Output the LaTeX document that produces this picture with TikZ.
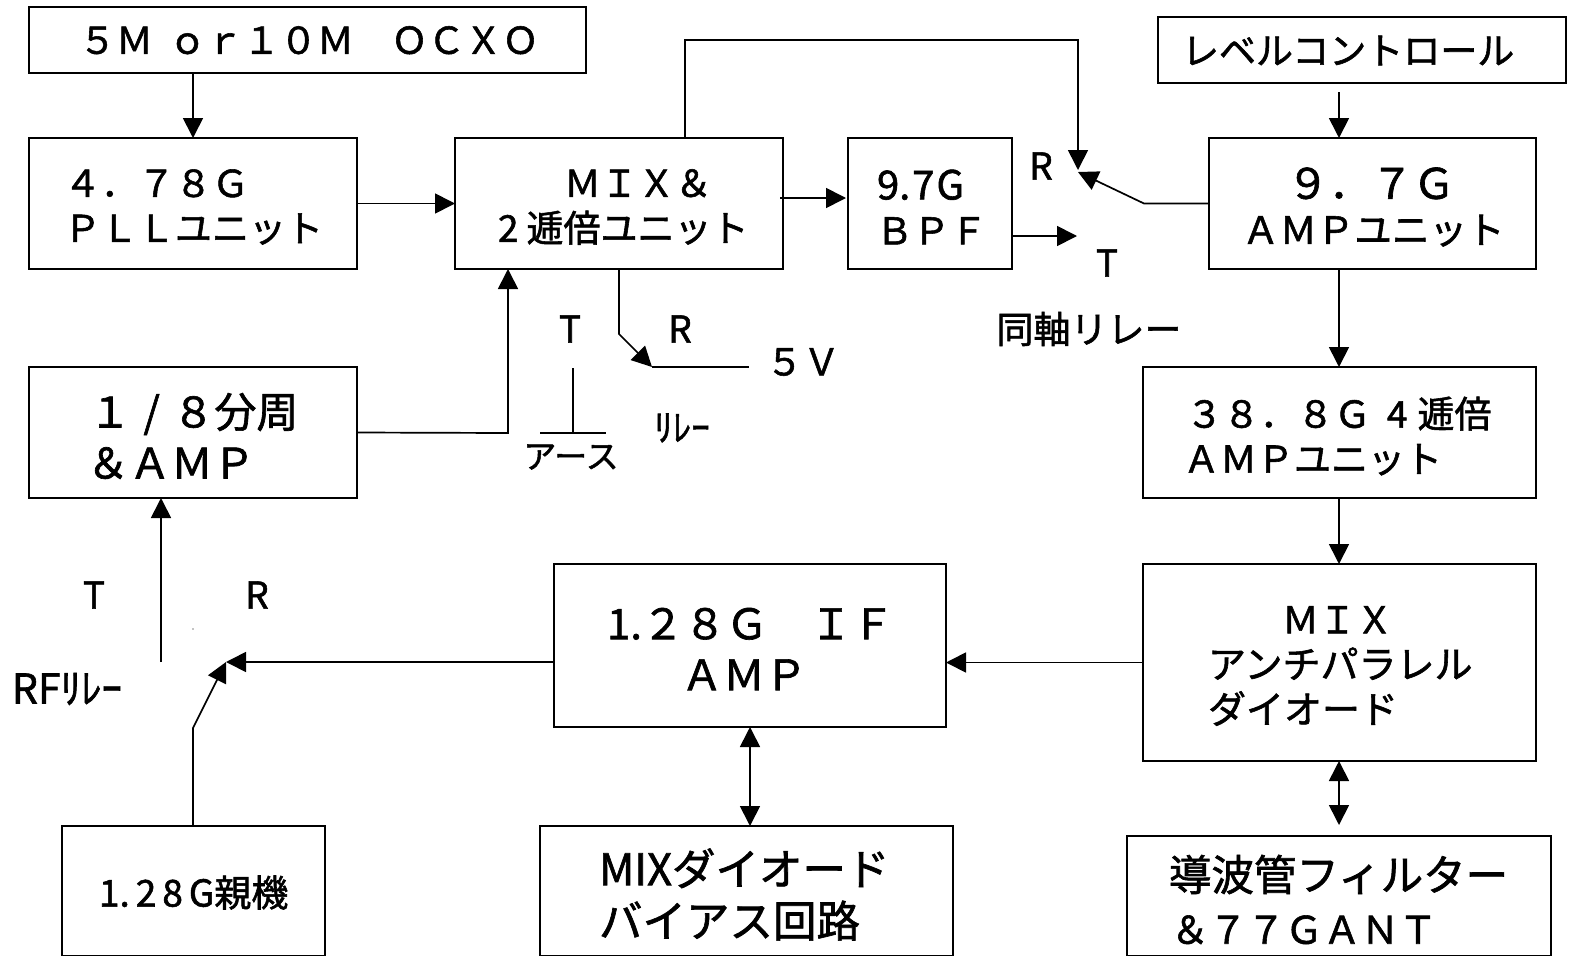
\documentclass[tikz,border=0pt]{standalone}
\usepackage{fontspec}
\setmainfont[FakeBold=1.5]{Noto Sans CJK JP}
\usetikzlibrary{arrows.meta}
\newcommand{\fsz}[2]{\fontsize{#1}{#2}\selectfont}
\newcommand{\ind}[1]{\hspace*{#1pt}}
\tikzset{
  blockbox/.style 2 args={draw,line width=1.8pt,anchor=north west,inner sep=0pt,outer sep=0pt,
    text width=#1pt,minimum height=#2pt,align=left,font=\fsz{37}{45},
    execute at end node={\par\vspace{-7pt}}},
  labeltext/.style={inner sep=0pt,font=\fsz{37}{45}},
  wire/.style={line width=1.7pt},
  arr/.style={wire,-{Triangle[width=20pt,length=20pt]}},
  darr/.style={wire,{Triangle[width=20pt,length=20pt]}-{Triangle[width=20pt,length=20pt]}}
}
\begin{document}
\begin{tikzpicture}[x=1pt,y=-1pt]
  \useasboundingbox (0,0) rectangle (1572,956);
  \clip (0,0) rectangle (1572,956);
  \node[blockbox={557}{66},execute at end node={\par\vspace{-11pt}}] (ocxo) at (29,7) {\ind{50}５Ｍ\hspace{16pt}ｏｒ１０Ｍ　ＯＣＸＯ};
  \node[blockbox={328}{131}] (pll) at (29,138) {\ind{35}４．７８Ｇ\\\ind{35}ＰＬＬユニット};
  \node[blockbox={328}{131}] (mixdbl) at (455,138) {\ind{109}ＭＩＸ＆\\\ind{43}2\hspace{8pt}逓倍ユニット};
  \node[blockbox={164}{131}] (bpf) at (848,138) {\ind{29}{\fsz{40}{45}9.\hspace{2pt}7\hspace{2pt}G}\\\ind{28}ＢＰＦ};
  \node[blockbox={327}{131},font=\fsz{42}{45}] (ampnine) at (1209,138) {\ind{78}９．７Ｇ\\\ind{33}{\fsz{37.5}{45}ＡＭＰユニット}};
  \node[blockbox={408}{66},execute at end node={\par\vspace{-11pt}}] (level) at (1158,17) {\ind{24}レベルコントロール};
  \node[blockbox={328}{131},font=\fsz{42}{51},execute at end node={}] (div) at (29,367) {\ind{60}１\hspace{12.5pt}/\hspace{12.5pt}８分周\\\ind{58}＆ＡＭＰ};
  \node[blockbox={393}{131}] (ampfour) at (1143,367) {\ind{43}３８．８Ｇ\hspace{16pt}4\hspace{10pt}逓倍\\\ind{40}ＡＭＰユニット};
  \node[blockbox={393}{197}] (mixanti) at (1143,564) {\ind{139}ＭＩＸ\\\ind{65}{\fsz{38}{45}アンチパラレル}\\\ind{65}{\fsz{38}{45}ダイオード}};
  \node[blockbox={392}{163},font=\fsz{42}{51}] (ifamp) at (554,564) {\ind{53}1.２８Ｇ　ＩＦ\\\ind{127}ＡＭＰ};
  \node[blockbox={263}{130}] (oya) at (62,826) {\ind{37}1.\hspace{6pt}2\hspace{6pt}8\hspace{6pt}G親機};
  \node[blockbox={413}{130},font=\fsz{43.5}{52}] (bias) at (540,826) {\ind{59}MIXダイオード\\\ind{59}バイアス回路};
  \node[blockbox={424}{120},font=\fsz{42.5}{53}] (wg) at (1127,836) {\ind{42}導波管フィルター\\\ind{44}{\fsz{38}{53}＆７７ＧＡＮＴ}};
  \node[labeltext] (mixT) at (570,329) {T};
  \node[labeltext] (mixR) at (680,329) {R};
  \node[labeltext] (fivev) at (803,362) {５Ｖ};
  \node[labeltext] (relayname) at (682,428) {ﾘﾚｰ};
  \node[labeltext,font=\fsz{33}{36}] (earth) at (571,457) {アース};
  \node[labeltext] (coaxR) at (1041,166) {R};
  \node[labeltext] (coaxT) at (1107,263) {T};
  \node[labeltext] (coaxname) at (1089,329) {同軸リレー};
  \node[labeltext] (rfT) at (94,595) {T};
  \node[labeltext] (rfR) at (257,595) {R};
  \node[labeltext,font=\fsz{41}{45}] (rfname) at (67,689) {RFﾘﾚｰ};
  \coordinate (mixout) at (780,198);
  \coordinate (bpfin) at (846,198);
  \coordinate (loopa) at (685,138);
  \coordinate (loopb) at (685,40);
  \coordinate (loopc) at (1078,40);
  \coordinate (coaxtip) at (1078,170);
  \coordinate (coaxr) at (1078,172);
  \coordinate (coaxbend) at (1144,203.5);
  \coordinate (coaxout) at (1012,236);
  \coordinate (coaxthru) at (1077,236);
  \coordinate (levelout) at (1339,92);
  \coordinate (wgend) at (1339,825);
  \coordinate (divbend) at (508,433);
  \coordinate (divtip) at (508,269);
  \coordinate (drvbend) at (619,334);
  \coordinate (drvtip) at (652,367);
  \coordinate (drvend) at (749,367);
  \coordinate (gndtop) at (573,368);
  \coordinate (gndmid) at (573,433);
  \coordinate (gndl) at (540,433);
  \coordinate (gndr) at (606,433);
  \coordinate (rftip) at (226,662);
  \coordinate (rfbend) at (193,728);
  \coordinate (rfstart) at (161,662);
  \coordinate (rfup) at (161,498);
  \draw[arr] (ocxo.south -| pll.north) -- (pll.north);
  \draw[arr] (pll.east) -- (mixdbl.west);
  \draw[arr] (mixout) -- (bpfin);
  \draw[arr] (loopa) -- (loopb) -- (loopc) -- (coaxtip);
  \draw[arr] (ampnine.west) -- (coaxbend) -- (coaxr);
  \draw[arr] (coaxout) -- (coaxthru);
  \draw[arr] (levelout) -- (levelout |- ampnine.north);
  \draw[arr] (levelout |- ampnine.south) -- (levelout |- ampfour.north);
  \draw[arr] (levelout |- ampfour.south) -- (levelout |- mixanti.north);
  \draw[arr] (mixanti.west) -- (ifamp.east |- mixanti.west);
  \draw[darr] (levelout |- mixanti.south) -- (wgend);
  \draw[darr] (ifamp.south) -- (ifamp.south |- bias.north);
  \draw[arr] (ifamp.west |- rftip) -- (rftip);
  \draw[arr] (rfbend |- oya.north) -- (rfbend) -- (rftip);
  \draw[arr] (rfstart) -- (rfup);
  \draw[arr] (div.east) -- (divbend) -- (divtip);
  \draw[arr] (mixdbl.south -| drvbend) -- (drvbend) -- (drvtip);
  \draw[wire] (drvtip) -- (drvend);
  \draw[wire] (gndtop) -- (gndmid);
  \draw[wire] (gndl) -- (gndr);
  \fill (193,629) circle (0.7pt);
\end{tikzpicture}
\end{document}
